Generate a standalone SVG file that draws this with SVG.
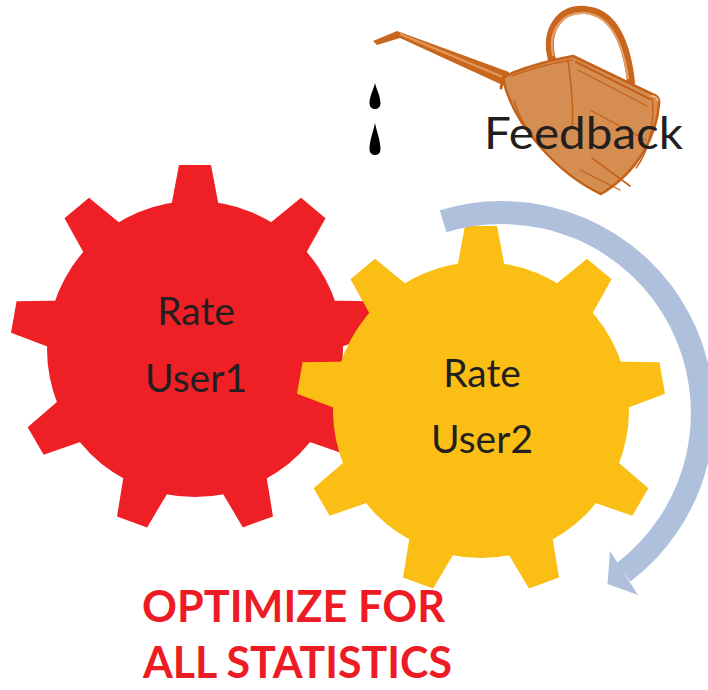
<svg xmlns="http://www.w3.org/2000/svg" xmlns:xlink="http://www.w3.org/1999/xlink" width="708" height="690" viewBox="0 0 708 690">
  <defs>
    <!-- one gear tooth, pointing up from the gear centre -->
    <polygon id="tooth" points="-16,-184 16,-184 25.5,-134 -25.5,-134"/>
    <style>
      .label { font-family: Lato, "Open Sans", "Liberation Sans", sans-serif; fill: #231F20; }
      .gear-label { font-size: 39px; text-anchor: middle; }
      .title { font-family: Lato, "Open Sans", "Liberation Sans", sans-serif; font-weight: bold; font-size: 44px; fill: #ED1C24; }
      .can-line { fill: none; stroke: #C4621A; stroke-linecap: round; stroke-linejoin: round; }
      .drop { fill: #000000; }
    </style>
  </defs>

  <rect width="708" height="690" fill="#FFFFFF"/>

  <!-- red gear -->
  <g id="gear-red" fill="#EE1F25">
    <circle cx="195" cy="349" r="148"/>
    <use xlink:href="#tooth" transform="translate(195,349) rotate(0)"/>
    <use xlink:href="#tooth" transform="translate(195,349) rotate(40)"/>
    <use xlink:href="#tooth" transform="translate(195,349) rotate(80)"/>
    <use xlink:href="#tooth" transform="translate(195,349) rotate(120)"/>
    <use xlink:href="#tooth" transform="translate(195,349) rotate(160)"/>
    <use xlink:href="#tooth" transform="translate(195,349) rotate(200)"/>
    <use xlink:href="#tooth" transform="translate(195,349) rotate(240)"/>
    <use xlink:href="#tooth" transform="translate(195,349) rotate(280)"/>
    <use xlink:href="#tooth" transform="translate(195,349) rotate(320)"/>
    <text class="label gear-label" x="196" y="325">Rate</text>
    <text class="label gear-label" x="196" y="392">User1</text>
  </g>

  <!-- yellow gear -->
  <g id="gear-yellow" fill="#FBBE14">
    <circle cx="481" cy="410" r="148"/>
    <use xlink:href="#tooth" transform="translate(481,410) rotate(0)"/>
    <use xlink:href="#tooth" transform="translate(481,410) rotate(40)"/>
    <use xlink:href="#tooth" transform="translate(481,410) rotate(80)"/>
    <use xlink:href="#tooth" transform="translate(481,410) rotate(120)"/>
    <use xlink:href="#tooth" transform="translate(481,410) rotate(160)"/>
    <use xlink:href="#tooth" transform="translate(481,410) rotate(200)"/>
    <use xlink:href="#tooth" transform="translate(481,410) rotate(240)"/>
    <use xlink:href="#tooth" transform="translate(481,410) rotate(280)"/>
    <use xlink:href="#tooth" transform="translate(481,410) rotate(320)"/>
    <text class="label gear-label" x="482" y="387">Rate</text>
    <text class="label gear-label" x="482" y="453">User2</text>
  </g>

  <!-- circular arrow round the yellow gear -->
  <g id="connectors">
    <path d="M 443.1 221.3 A 200.5 200.5 0 0 1 623.5 572.4" fill="none" stroke="#AFC0DC" stroke-width="23"/>
    <polygon points="610,551 638,595 607.5,584" fill="#AFC0DC"/>
  </g>

  <!-- watering can with its drops -->
  <g id="feedback">
    <g id="drops">
      <path class="drop" d="M 375 83 C 376.5 90, 380.5 96, 380.5 103.5 A 5.5 5.5 0 0 1 369.5 103.5 C 369.5 96, 373.5 90, 375 83 Z"/>
      <path class="drop" d="M 375 123 C 376.5 131, 380.5 140, 380.5 149.5 A 5.5 5.5 0 0 1 369.5 149.5 C 369.5 140, 373.5 131, 375 123 Z"/>
    </g>
    <!-- handle -->
    <path d="M 552 60 C 544 30, 560 8, 585 10 C 612 12, 626 38, 631 82" fill="none" stroke="#C8661E" stroke-width="8" stroke-linecap="round"/>
    <path d="M 553 55 C 548 30, 562 12, 585 13 C 608 15, 622 38, 628 78" fill="none" stroke="#E3A06A" stroke-width="2.2" stroke-linecap="round"/>
    <!-- spout -->
    <polygon points="373,41 397,31 509,72 509,88 400,38 377,45" fill="#C8671E"/>
    <path d="M 400 34 L 505 78" stroke="#E29A5B" stroke-width="2" fill="none"/>
    <!-- body -->
    <path d="M 503 78 L 512 73 Q 540 62 573 56 L 652 94 Q 660 96 659 104 C 657 132, 641 170, 601 194 C 560 175, 512 125, 503 78 Z" fill="#D68D52" stroke="#C4621A" stroke-width="2.5" stroke-linejoin="round"/>
    <!-- neck collar where the spout meets the body -->
    <path class="can-line" d="M 504 75 L 501 88" stroke-width="3"/>
    <!-- sketch strokes over the body -->
    <path class="can-line" d="M 512 76 Q 540 65 572 60" stroke-width="1.6"/>
    <path class="can-line" d="M 576 62 L 650 99" stroke-width="2"/>
    <path class="can-line" d="M 578 70 L 647 106" stroke-width="1.4"/>
    <path class="can-line" d="M 568 60 C 572 90, 574 110, 572 128" stroke-width="1.6"/>
    <path class="can-line" d="M 590 110 L 646 140" stroke-width="1.4"/>
    <path class="can-line" d="M 592 158 L 630 186" stroke-width="1.6"/>
    <path class="can-line" d="M 580 170 L 620 190" stroke-width="1.2"/>
    <path class="can-line" d="M 514 100 C 520 120, 528 132, 540 145" stroke-width="1.4"/>
    <path class="can-line" d="M 652 98 C 655 120, 650 150, 636 168" stroke-width="1.4"/>
    <path d="M 651 96 Q 657 96 658 101" fill="none" stroke="#F0C49A" stroke-width="1.5"/>
    <text class="label" x="484" y="149" font-size="44" textLength="199" lengthAdjust="spacingAndGlyphs">Feedback</text>
  </g>

  <!-- caption -->
  <g id="caption">
    <text class="title" x="142" y="622" textLength="303" lengthAdjust="spacingAndGlyphs">OPTIMIZE FOR</text>
    <text class="title" x="143" y="678" textLength="309" lengthAdjust="spacingAndGlyphs">ALL STATISTICS</text>
  </g>
</svg>
